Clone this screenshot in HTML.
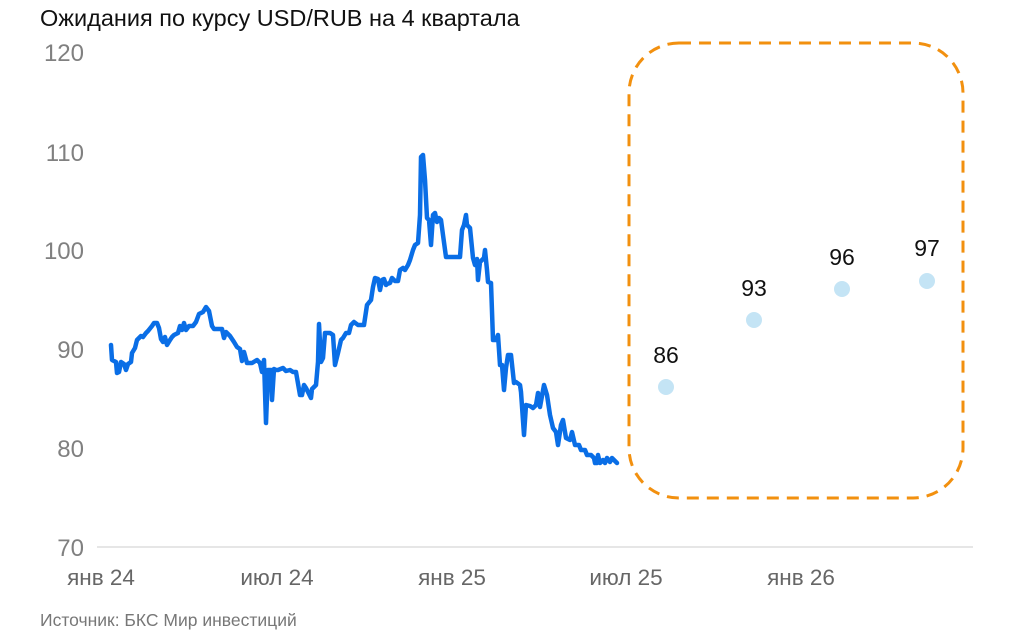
<!DOCTYPE html>
<html><head><meta charset="utf-8"><style>
body{margin:0;background:#fff;}
svg{display:block;font-family:"Liberation Sans",sans-serif;}
</style></head><body>
<svg width="1024" height="641" viewBox="0 0 1024 641">
<text x="40" y="26" font-size="23.5" fill="#111">Ожидания по курсу USD/RUB на 4 квартала</text>
<g font-size="24" fill="#808080" text-anchor="end">
<text x="84" y="61">120</text>
<text x="84" y="161">110</text>
<text x="84" y="259">100</text>
<text x="84" y="358">90</text>
<text x="84" y="457">80</text>
<text x="84" y="556">70</text>
</g>
<line x1="97" y1="547" x2="973" y2="547" stroke="#ccc" stroke-width="1"/>
<g font-size="22.5" fill="#666" text-anchor="middle">
<text x="101" y="585">янв 24</text>
<text x="277" y="585">июл 24</text>
<text x="452" y="585">янв 25</text>
<text x="626" y="585">июл 25</text>
<text x="801" y="585">янв 26</text>
</g>
<text x="40" y="626" font-size="17.5" fill="#777">Источник: БКС Мир инвестиций</text>
<polyline fill="none" stroke="#0a6ee6" stroke-width="4.5" stroke-linejoin="round" stroke-linecap="round" points="111,345 112,360 116,362 117,373 119,372 121,362 124,364 126,370 128,364 131,362 132,353 135,348 137,340 139,338 141,336 143,337 146,333 148,331 152,326 154,323 157,323 159,328 161,339 163,342 165,337 167,345 170,340 172,337 174,335 178,333 180,326 182,330 184,323 186,330 189,326 193,326 196,322 199,314 203,312 206,307 209,311 212,326 214,329 222,329 224,338 226,332 230,336 234,342 237,347 240,349 242,361 244,352 247,363 252,363 257,360 260,363 262,372 264,360 266,423 268,370 271,370 272,400 274,369 276,370 278,370 283,368 286,371 290,370 293,372 296,372 300,395 302,395 304,385 306,388 308,392 311,398 312,389 316,385 318,362 319,324 321,362 323,358 325,333 328,333 330,333 333,335 335,365 338,353 341,340 343,338 346,333 349,333 351,325 354,322 358,325 360,325 364,325 367,305 371,300 373,287 375,278 378,279 380,290 382,280 384,279 386,285 387,284 390,283 392,278 395,281 398,281 400,270 403,268 405,270 408,265 410,260 413,250 415,245 418,243 420,215 421,157 423,155 425,180 427,218 429,220 431,245 433,215 435,213 437,222 439,218 441,220 443,235 446,257 460,257 462,230 464,225 466,215 467,225 470,228 473,258 475,265 477,259 478,280 480,262 484,258 485,250 487,270 488,282 491,283 493,340 496,340 498,335 500,365 502,365 504,390 506,368 508,355 511,355 514,383 516,382 520,385 521,392 524,435 526,405 530,406 533,408 536,405 538,393 540,407 544,385 547,395 550,415 553,428 556,432 558,445 561,425 563,420 566,438 570,440 572,432 575,445 579,445 581,450 585,450 587,455 591,455 594,458 595,463 597,463 598,455 600,463 603,460 605,463 607,458 610,462 612,458 615,461 617,463"/>
<rect x="629" y="43" width="334" height="455" rx="50" ry="50" fill="none" stroke="#f2900f" stroke-width="3" stroke-dasharray="12,8"/>
<g fill="#c4e4f5">
<circle cx="666" cy="387" r="8"/>
<circle cx="754" cy="320" r="8"/>
<circle cx="842" cy="289" r="8"/>
<circle cx="927" cy="281" r="8"/>
</g>
<g font-size="23" fill="#111" text-anchor="middle">
<text x="666" y="363">86</text>
<text x="754" y="296">93</text>
<text x="842" y="265">96</text>
<text x="927" y="256">97</text>
</g>
</svg>
</body></html>
